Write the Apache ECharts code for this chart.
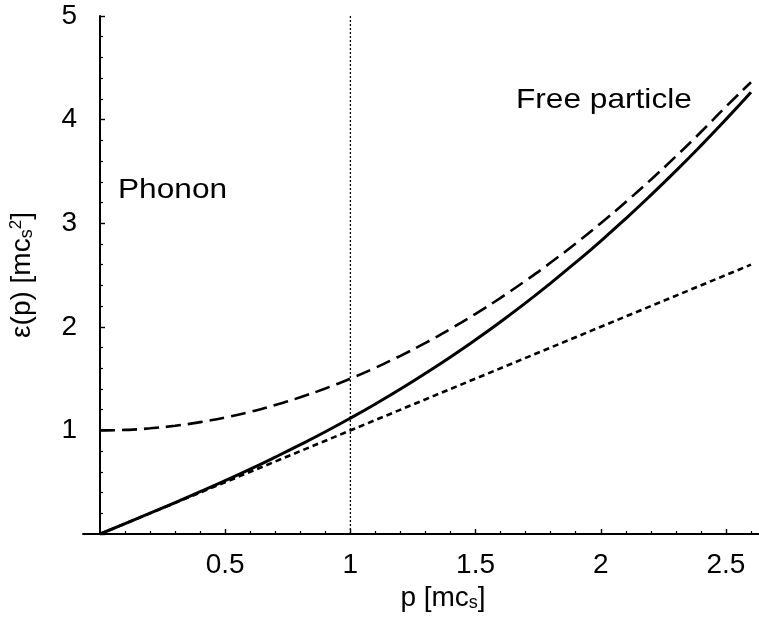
<!DOCTYPE html>
<html>
<head>
<meta charset="utf-8">
<script src="https://cdn.jsdelivr.net/npm/echarts@6/dist/echarts.min.js"></script>
<style>html,body{margin:0;padding:0;background:#fff;}#c{width:759px;height:621px;}</style>
</head>
<body>
<div id="c"></div>
<script>
// momentum p [mc_s]
var pValues = [0,0.1,0.2,0.3,0.4,0.5,0.6,0.7,0.8,0.9,1.0,1.1,1.2,1.3,1.4,1.5,1.6,1.7,1.8,1.9,2.0,2.1,2.2,2.3,2.4,2.5,2.6];
// Bogoliubov dispersion (solid)
var bogoliubov = [0,0.100,0.201,0.303,0.408,0.515,0.626,0.742,0.862,0.987,1.118,1.255,1.399,1.551,1.709,1.875,2.049,2.231,2.422,2.621,2.828,3.045,3.271,3.505,3.749,4.002,4.264];
// free particle shifted (dashed)
var freeParticle = [1.000,1.005,1.020,1.045,1.080,1.125,1.180,1.245,1.320,1.405,1.500,1.605,1.720,1.845,1.980,2.125,2.280,2.445,2.620,2.805,3.000,3.205,3.420,3.645,3.880,4.125,4.360];
// phonon (short dashes)
var phononP = [0, 2.6];
var phonon = [0, 2.6];
// vertical marker
var markerP = [1, 1];
var markerE = [0, 5];
// tick labels
var xLabelValues = [0.5, 1, 1.5, 2, 2.5];
var xMinorTicks = [0.1,0.2,0.3,0.4,0.6,0.7,0.8,0.9,1.1,1.2,1.3,1.4,1.6,1.7,1.8,1.9,2.1,2.2,2.3,2.4,2.6];
var yLabelValues = [1, 2, 3, 4, 5];

function zip(a, b) { return a.map(function (v, i) { return [v, b[i]]; }); }

var FONT = 'Liberation Sans';
var FS = 28;
var chart = echarts.init(document.getElementById('c'), null, {renderer: 'canvas'});
var gridRect = {left: 83, right: 0, top: 16, bottom: 87, containLabel: false, outerBoundsMode: 'none'};
chart.setOption({
  animation: false,
  backgroundColor: '#fff',
  grid: [Object.assign({}, gridRect), Object.assign({}, gridRect)],
  xAxis: [{
    type: 'value', gridIndex: 0, min: -0.068, max: 2.632,
    splitLine: {show: false},
    axisLine: {lineStyle: {color: '#000', width: 2}},
    axisTick: {inside: true, length: 5, lineStyle: {color: '#000', width: 1.4}, customValues: xLabelValues},
    axisLabel: {customValues: xLabelValues, color: '#000', fontFamily: FONT, fontSize: FS, margin: 17,
      formatter: function (v) { return String(v); }},
    name: '{a|p [mc}{s|s}{a|]}',
    nameLocation: 'middle', nameGap: 45,
    nameTextStyle: {padding: [0, 0, 0, 44], rich: {
      a: {fontFamily: FONT, fontSize: FS, color: '#000'},
      s: {fontFamily: FONT, fontSize: 18, color: '#000', padding: [10, 0, 0, 0]}
    }}
  }, {
    type: 'value', gridIndex: 1, min: -0.068, max: 2.632,
    splitLine: {show: false},
    axisLine: {show: false},
    axisTick: {inside: true, length: 3, lineStyle: {color: '#000', width: 1.2}, customValues: xMinorTicks},
    axisLabel: {show: false}
  }],
  yAxis: [{
    type: 'value', gridIndex: 0, min: 0, max: 5, interval: 1,
    splitLine: {show: false},
    axisLine: {onZero: true, lineStyle: {color: '#000', width: 2}},
    axisTick: {inside: true, length: 5, lineStyle: {color: '#000', width: 1.4}},
    minorTick: {show: true, splitNumber: 5, length: 3, lineStyle: {color: '#000', width: 1.2}},
    axisLabel: {customValues: yLabelValues, color: '#000', fontFamily: FONT, fontSize: FS, margin: 6},
    name: '{a|ε(p) [mc}{s|s}{p|2}{a|]}',
    nameLocation: 'middle', nameGap: 46, nameRotate: 90,
    nameTextStyle: {rich: {
      a: {fontFamily: FONT, fontSize: FS, color: '#000'},
      s: {fontFamily: FONT, fontSize: 18, color: '#000', padding: [10, 0, 0, 0]},
      p: {fontFamily: FONT, fontSize: 17, color: '#000', padding: [0, 0, 12, 0]}
    }}
  }, {
    type: 'value', gridIndex: 1, min: 0, max: 5, show: false
  }],
  graphic: [
    {type: 'text', left: 118, top: 176, scaleX: 1.13, style: {text: 'Phonon', fontFamily: FONT, fontSize: FS, fill: '#000'}},
    {type: 'text', left: 516, top: 86, scaleX: 1.13, style: {text: 'Free particle', fontFamily: FONT, fontSize: FS, fill: '#000'}}
  ],
  series: [
    {type: 'line', xAxisIndex: 0, yAxisIndex: 0, data: zip(markerP, markerE), showSymbol: false,
      lineStyle: {color: '#000', width: 1.3, type: [2, 2]}},
    {type: 'line', xAxisIndex: 0, yAxisIndex: 0, data: zip(phononP, phonon), showSymbol: false,
      lineStyle: {color: '#000', width: 2.6, type: [6, 4]}},
    {type: 'line', xAxisIndex: 0, yAxisIndex: 0, data: zip(pValues, freeParticle), showSymbol: false, smooth: true,
      lineStyle: {color: '#000', width: 2.6, type: [15, 7]}},
    {type: 'line', xAxisIndex: 0, yAxisIndex: 0, data: zip(pValues, bogoliubov), showSymbol: false, smooth: true,
      lineStyle: {color: '#000', width: 3}}
  ]
});
</script>
</body>
</html>
